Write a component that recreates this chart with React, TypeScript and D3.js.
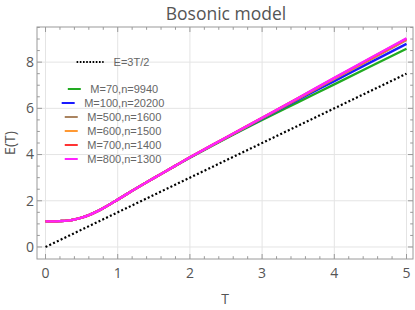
import React, { useEffect, useRef } from 'react';
import * as d3 from 'd3';

// temperature grid shared by all curves
const temps = [0, 0.1, 0.2, 0.3, 0.4, 0.5, 0.6, 0.7, 0.8, 0.9, 1.0, 1.2, 1.4, 1.6, 1.8, 2.0, 2.5, 3.0, 3.5, 4.0, 4.5, 5.0];

// E(T) (curves overlap below T~2.5)
const eM70 = [1.11, 1.11, 1.12, 1.14, 1.19, 1.27, 1.38, 1.52, 1.68, 1.86, 2.05, 2.43, 2.80, 3.16, 3.51, 3.86, 4.70, 5.50, 6.27, 7.04, 7.81, 8.58];
const eM100 = [1.11, 1.11, 1.12, 1.14, 1.19, 1.27, 1.38, 1.52, 1.68, 1.86, 2.05, 2.43, 2.80, 3.16, 3.52, 3.87, 4.72, 5.55, 6.37, 7.18, 7.99, 8.79];
const eM500 = [1.11, 1.11, 1.12, 1.14, 1.19, 1.27, 1.38, 1.52, 1.68, 1.86, 2.05, 2.43, 2.80, 3.16, 3.52, 3.88, 4.73, 5.57, 6.42, 7.27, 8.11, 8.96];
const eM600 = [1.11, 1.11, 1.12, 1.14, 1.19, 1.27, 1.38, 1.52, 1.68, 1.86, 2.05, 2.43, 2.80, 3.16, 3.52, 3.88, 4.73, 5.58, 6.43, 7.29, 8.14, 8.99];
const eM700 = [1.11, 1.11, 1.12, 1.14, 1.19, 1.27, 1.38, 1.52, 1.68, 1.86, 2.05, 2.43, 2.80, 3.16, 3.52, 3.88, 4.74, 5.59, 6.44, 7.31, 8.16, 9.01];
const eM800 = [1.11, 1.11, 1.12, 1.14, 1.19, 1.27, 1.38, 1.52, 1.68, 1.86, 2.05, 2.43, 2.80, 3.16, 3.52, 3.88, 4.74, 5.59, 6.45, 7.32, 8.18, 9.03];

const classicalT = [0, 5];
const classicalE = [0, 7.5];

const seriesLabels = ['M=70,n=9940', 'M=100,n=20200', 'M=500,n=1600', 'M=600,n=1500', 'M=700,n=1400', 'M=800,n=1300'];
const seriesColors = ['#22aa22', '#1a1aff', '#aa8460', '#ff9933', '#ff3333', '#ff22ff'];
const seriesValues = [eM70, eM100, eM500, eM600, eM700, eM800];

const xTicks = [0, 1, 2, 3, 4, 5];
const yTicks = [0, 2, 4, 6, 8];

const W = 415;
const H = 310;

const App = () => {
  const svgRef = useRef(null);

  useEffect(() => {
    const svg = d3.select(svgRef.current);
    svg.selectAll('*').remove();

    const left = 37, right = 413, top = 27, bottom = 259;
    const x = d3.scaleLinear().domain([-0.118, 5.09]).range([left, right]);
    const y = d3.scaleLinear().domain([-0.52, 9.52]).range([bottom, top]);

    const tickFont = '"Open Sans", sans-serif';
    const frameColor = '#9a9a9a';

    // gridlines
    svg.append('g').selectAll('line').data(xTicks).enter().append('line')
      .attr('x1', d => x(d)).attr('x2', d => x(d))
      .attr('y1', top).attr('y2', bottom)
      .attr('stroke', '#e4e4e4').attr('stroke-width', 1);
    svg.append('g').selectAll('line').data(yTicks).enter().append('line')
      .attr('y1', d => y(d)).attr('y2', d => y(d))
      .attr('x1', left).attr('x2', right)
      .attr('stroke', '#e4e4e4').attr('stroke-width', 1);

    // frame
    svg.append('rect')
      .attr('x', left).attr('y', top)
      .attr('width', right - left).attr('height', bottom - top)
      .attr('fill', 'none').attr('stroke', frameColor).attr('stroke-width', 1);

    // inward ticks on all four sides
    const xMinor = d3.range(0, 5.01, 0.2).map(v => +v.toFixed(1)).filter(v => !xTicks.includes(v));
    const yMinor = d3.range(0, 9.51, 0.5).filter(v => !yTicks.includes(v));
    const ticks = svg.append('g').attr('stroke', frameColor).attr('stroke-width', 1);
    const addX = (vals, len) => {
      vals.forEach(v => {
        ticks.append('line').attr('x1', x(v)).attr('x2', x(v)).attr('y1', bottom).attr('y2', bottom - len);
        ticks.append('line').attr('x1', x(v)).attr('x2', x(v)).attr('y1', top).attr('y2', top + len);
      });
    };
    const addY = (vals, len) => {
      vals.forEach(v => {
        ticks.append('line').attr('y1', y(v)).attr('y2', y(v)).attr('x1', left).attr('x2', left + len);
        ticks.append('line').attr('y1', y(v)).attr('y2', y(v)).attr('x1', right).attr('x2', right - len);
      });
    };
    addX(xTicks, 5);
    addX(xMinor, 2.8);
    addY(yTicks, 5);
    addY(yMinor, 2.8);

    // tick labels
    svg.append('g').selectAll('text').data(xTicks).enter().append('text')
      .attr('x', d => x(d)).attr('y', 278)
      .attr('text-anchor', 'middle')
      .attr('font-family', tickFont).attr('font-size', 14).attr('fill', '#555')
      .text(d => d);
    svg.append('g').selectAll('text').data(yTicks).enter().append('text')
      .attr('x', 34).attr('y', d => y(d)).attr('dy', '0.35em')
      .attr('text-anchor', 'end')
      .attr('font-family', tickFont).attr('font-size', 14).attr('fill', '#555')
      .text(d => d);

    // axis labels and title
    svg.append('text')
      .attr('x', (left + right) / 2).attr('y', 304)
      .attr('text-anchor', 'middle')
      .attr('font-family', tickFont).attr('font-size', 14).attr('fill', '#555')
      .text('T');
    svg.append('text')
      .attr('transform', `translate(15,${(top + bottom) / 2}) rotate(-90)`)
      .attr('text-anchor', 'middle')
      .attr('font-family', tickFont).attr('font-size', 14).attr('fill', '#555')
      .text('E(T)');
    svg.append('text')
      .attr('x', (left + right) / 2 + 1).attr('y', 20)
      .attr('text-anchor', 'middle')
      .attr('font-family', tickFont).attr('font-size', 17.5).attr('fill', '#555')
      .text('Bosonic model');

    // curves
    const line = d3.line().x(d => x(d[0])).y(d => y(d[1])).curve(d3.curveCatmullRom);
    const plot = svg.append('g');
    plot.append('path')
      .datum(classicalT.map((t, i) => [t, classicalE[i]]))
      .attr('d', line)
      .attr('fill', 'none').attr('stroke', '#000')
      .attr('stroke-width', 2.2).attr('stroke-dasharray', '2,2.2');
    seriesValues.forEach((vals, i) => {
      plot.append('path')
        .datum(temps.map((t, j) => [t, vals[j]]))
        .attr('d', line)
        .attr('fill', 'none').attr('stroke', seriesColors[i])
        .attr('stroke-width', 2.4).attr('stroke-linejoin', 'round');
    });

    // legend, each row centred on cx
    const cx = 113;
    const legendFont = '"Liberation Sans", Arial, sans-serif';
    const rows = [{ label: 'E=3T/2', color: '#000', len: 27, gap: 10, y: 62, dotted: true }]
      .concat(seriesLabels.map((label, i) => ({ label, color: seriesColors[i], len: 13, gap: 9.5, y: 89 + i * 14, dotted: false })));
    rows.forEach(r => {
      const g = svg.append('g');
      const txt = g.append('text')
        .attr('y', r.y).attr('dy', '0.35em')
        .attr('font-family', legendFont).attr('font-size', 11).attr('fill', '#666')
        .text(r.label);
      const w = txt.node().getComputedTextLength();
      const x0 = cx - (r.len + r.gap + w) / 2;
      txt.attr('x', x0 + r.len + r.gap);
      g.append('line')
        .attr('x1', x0).attr('x2', x0 + r.len)
        .attr('y1', r.y).attr('y2', r.y)
        .attr('stroke', r.color).attr('stroke-width', r.dotted ? 1.8 : 2)
        .attr('stroke-dasharray', r.dotted ? '1.6,1.6' : null);
    });
  }, []);

  return (
    <svg ref={svgRef} width={W} height={H}
      style={{ position: 'absolute', left: 0, top: 0, background: '#fff' }} />
  );
};

export default App;
